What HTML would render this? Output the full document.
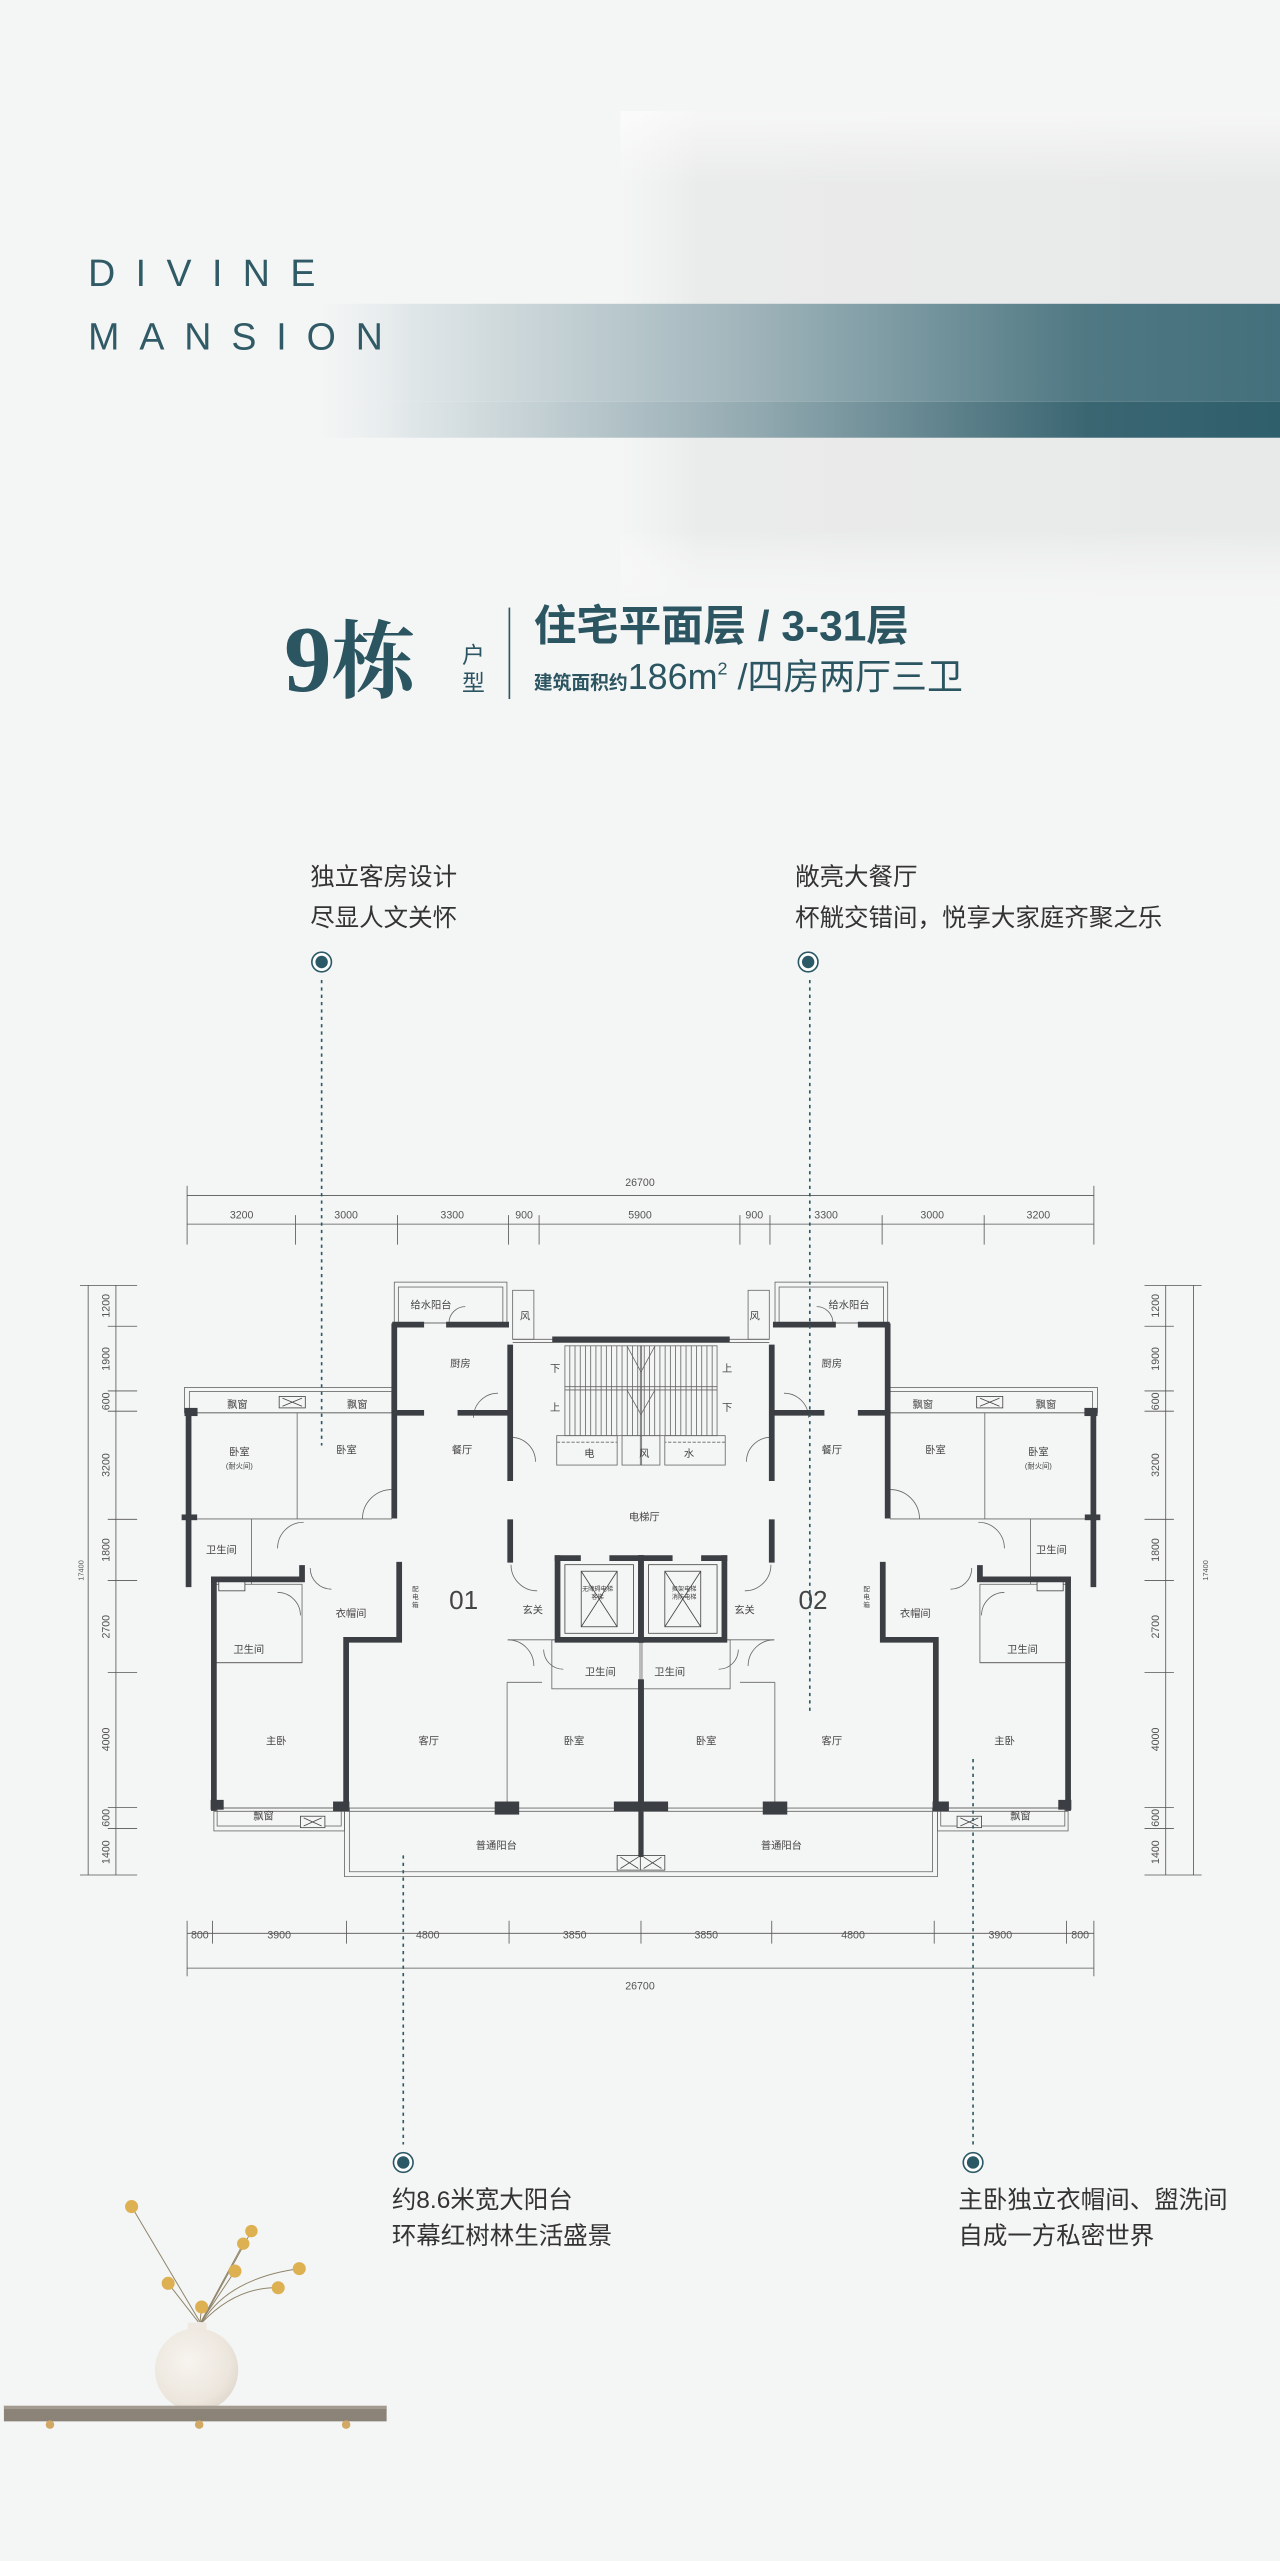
<!DOCTYPE html>
<html><head><meta charset="utf-8">
<style>
html,body{margin:0;padding:0;background:#f4f5f5;}
svg{display:block;}
</style></head>
<body>
<svg width="1280" height="2561" viewBox="0 0 784 1568" preserveAspectRatio="none" xmlns="http://www.w3.org/2000/svg" font-family="Liberation Sans, Noto Sans CJK SC, sans-serif">
<defs>
<linearGradient id="panel" x1="0" x2="1" y1="0" y2="0">
<stop offset="0" stop-color="#eceded" stop-opacity="0"/>
<stop offset="0.12" stop-color="#eaebeb" stop-opacity="1"/>
<stop offset="1" stop-color="#e8e9e9"/>
</linearGradient>
<linearGradient id="panelV" x1="0" x2="0" y1="0" y2="1">
<stop offset="0" stop-color="#fff" stop-opacity="0.6"/>
<stop offset="0.15" stop-color="#fff" stop-opacity="0"/>
<stop offset="0.85" stop-color="#fff" stop-opacity="0"/>
<stop offset="1" stop-color="#f4f5f5" stop-opacity="1"/>
</linearGradient>
<linearGradient id="band1" x1="0" x2="1" y1="0" y2="0">
<stop offset="0" stop-color="#e8ecee" stop-opacity="0"/>
<stop offset="0.1" stop-color="#dfe6e8"/>
<stop offset="0.45" stop-color="#9fb4ba"/>
<stop offset="0.8" stop-color="#4f7883"/>
<stop offset="1" stop-color="#43707c"/>
</linearGradient>
<linearGradient id="band2" x1="0" x2="1" y1="0" y2="0">
<stop offset="0" stop-color="#e8ecee" stop-opacity="0"/>
<stop offset="0.1" stop-color="#dfe6e8"/>
<stop offset="0.45" stop-color="#93aab1"/>
<stop offset="0.8" stop-color="#3a6672"/>
<stop offset="1" stop-color="#2f5f6b"/>
</linearGradient>
<radialGradient id="vase" cx="0.4" cy="0.4" r="0.7">
<stop offset="0" stop-color="#f7f4ef"/>
<stop offset="0.7" stop-color="#ece6dd"/>
<stop offset="1" stop-color="#ddd5ca"/>
</radialGradient>
</defs>

<rect x="0" y="0" width="784" height="1568" fill="#f4f5f5"/>
<!-- top panel -->
<rect x="380" y="68" width="404" height="302" fill="url(#panel)"/>
<rect x="380" y="68" width="404" height="302" fill="url(#panelV)"/>
<rect x="195" y="186" width="589" height="60" fill="url(#band1)"/>
<rect x="195" y="246" width="589" height="22" fill="url(#band2)"/>

<text x="54" y="175" font-size="23" fill="#2f5a66" letter-spacing="12.5" font-weight="300">DIVINE</text>
<text x="54" y="214" font-size="23" fill="#2f5a66" letter-spacing="12.2" font-weight="300">MANSION</text>

<!-- title -->
<text x="174" y="423" font-size="58" fill="#2b5561" font-family="Liberation Serif, Noto Serif CJK SC, serif" font-weight="bold">9<tspan font-size="52">栋</tspan></text>
<text x="283" y="406" font-size="14" fill="#2b5561" font-family="Liberation Sans, Noto Sans CJK SC, sans-serif">户</text>
<text x="283" y="423" font-size="14" fill="#2b5561" font-family="Liberation Sans, Noto Sans CJK SC, sans-serif">型</text>
<line x1="312" y1="372" x2="312" y2="428" stroke="#2b5561" stroke-width="1"/>
<text x="327" y="392" font-size="26" fill="#2b5561" font-weight="bold" font-family="Liberation Sans, Noto Sans CJK SC, sans-serif">住宅平面层 / 3-31层</text>
<text x="327" y="422" fill="#2b5561" font-family="Liberation Sans, Noto Sans CJK SC, sans-serif"><tspan font-size="11.5" font-weight="bold">建筑面积约</tspan><tspan font-size="22">186m</tspan><tspan font-size="11" dy="-9">2</tspan><tspan font-size="22" dy="9"> /四房两厅三卫</tspan></text>

<!-- callouts -->
<g font-size="15" fill="#333">
<text x="190" y="542">独立客房设计</text>
<text x="190" y="567">尽显人文关怀</text>
<text x="487" y="542">敞亮大餐厅</text>
<text x="487" y="567">杯觥交错间，悦享大家庭齐聚之乐</text>
<text x="240" y="1352">约8.6米宽大阳台</text>
<text x="240" y="1374">环幕红树林生活盛景</text>
<text x="587" y="1352">主卧独立衣帽间、盥洗间</text>
<text x="587" y="1374">自成一方私密世界</text>
</g>
<g>
<circle cx="197" cy="589" r="6" fill="#fff" stroke="#2b5a66" stroke-width="1"/><circle cx="197" cy="589" r="3.8" fill="#2b5a66"/>
<circle cx="495" cy="589" r="6" fill="#fff" stroke="#2b5a66" stroke-width="1"/><circle cx="495" cy="589" r="3.8" fill="#2b5a66"/>
<circle cx="247" cy="1324" r="6" fill="#fff" stroke="#2b5a66" stroke-width="1"/><circle cx="247" cy="1324" r="3.8" fill="#2b5a66"/>
<circle cx="596" cy="1324" r="6" fill="#fff" stroke="#2b5a66" stroke-width="1"/><circle cx="596" cy="1324" r="3.8" fill="#2b5a66"/>
</g>

<!-- floor plan -->
<g stroke="#555" fill="none" stroke-width="0.5">
<!-- top dims -->
<line x1="114.6" y1="732" x2="670" y2="732"/>
<line x1="114.6" y1="749.5" x2="670" y2="749.5"/>
<g>
<line x1="114.6" y1="726" x2="114.6" y2="762"/><line x1="670" y1="726" x2="670" y2="762"/>
<line x1="181" y1="744" x2="181" y2="762"/><line x1="243.5" y1="744" x2="243.5" y2="762"/>
<line x1="311.4" y1="744" x2="311.4" y2="762"/><line x1="330.2" y1="744" x2="330.2" y2="762"/>
<line x1="453.2" y1="744" x2="453.2" y2="762"/><line x1="471.6" y1="744" x2="471.6" y2="762"/>
<line x1="540.3" y1="744" x2="540.3" y2="762"/><line x1="602.8" y1="744" x2="602.8" y2="762"/>
</g>
<!-- bottom dims -->
<line x1="114.6" y1="1183.7" x2="670" y2="1183.7"/>
<line x1="114.6" y1="1205" x2="670" y2="1205"/>
<g>
<line x1="114.6" y1="1176" x2="114.6" y2="1210"/><line x1="670" y1="1176" x2="670" y2="1210"/>
<line x1="130.2" y1="1176" x2="130.2" y2="1190"/><line x1="212.2" y1="1176" x2="212.2" y2="1190"/>
<line x1="311.8" y1="1176" x2="311.8" y2="1190"/><line x1="392.6" y1="1176" x2="392.6" y2="1190"/>
<line x1="472.7" y1="1176" x2="472.7" y2="1190"/><line x1="572.2" y1="1176" x2="572.2" y2="1190"/>
<line x1="653.2" y1="1176" x2="653.2" y2="1190"/>
</g>
<!-- left dims -->
<line x1="54" y1="787" x2="54" y2="1148"/><line x1="71" y1="787" x2="71" y2="1148"/>
<g>
<line x1="49" y1="787" x2="84" y2="787"/><line x1="49" y1="1148" x2="84" y2="1148"/>
<line x1="66" y1="812" x2="84" y2="812"/><line x1="66" y1="851.6" x2="84" y2="851.6"/>
<line x1="66" y1="864" x2="84" y2="864"/><line x1="66" y1="930.2" x2="84" y2="930.2"/>
<line x1="66" y1="967.7" x2="84" y2="967.7"/><line x1="66" y1="1024" x2="84" y2="1024"/>
<line x1="66" y1="1106.6" x2="84" y2="1106.6"/><line x1="66" y1="1119.5" x2="84" y2="1119.5"/>
</g>
<!-- right dims -->
<line x1="731" y1="787" x2="731" y2="1148"/><line x1="714" y1="787" x2="714" y2="1148"/>
<g>
<line x1="701" y1="787" x2="736" y2="787"/><line x1="701" y1="1148" x2="736" y2="1148"/>
<line x1="701" y1="812" x2="719" y2="812"/><line x1="701" y1="851.6" x2="719" y2="851.6"/>
<line x1="701" y1="864" x2="719" y2="864"/><line x1="701" y1="930.2" x2="719" y2="930.2"/>
<line x1="701" y1="967.7" x2="719" y2="967.7"/><line x1="701" y1="1024" x2="719" y2="1024"/>
<line x1="701" y1="1106.6" x2="719" y2="1106.6"/><line x1="701" y1="1119.5" x2="719" y2="1119.5"/>
</g>
</g>
<g font-size="6.5" fill="#555" text-anchor="middle">
<text x="392" y="726">26700</text>
<text x="148" y="746">3200</text><text x="212" y="746">3000</text><text x="277" y="746">3300</text>
<text x="321" y="746">900</text><text x="392" y="746">5900</text><text x="462" y="746">900</text>
<text x="506" y="746">3300</text><text x="571" y="746">3000</text><text x="636" y="746">3200</text>
<text x="122.4" y="1187">800</text><text x="171" y="1187">3900</text><text x="262" y="1187">4800</text>
<text x="352" y="1187">3850</text><text x="432.6" y="1187">3850</text><text x="522.5" y="1187">4800</text>
<text x="612.7" y="1187">3900</text><text x="661.6" y="1187">800</text>
<text x="392" y="1218">26700</text>
</g>
<g font-size="6.5" fill="#555" text-anchor="middle">
<text transform="translate(67,799.5) rotate(-90)">1200</text>
<text transform="translate(67,832) rotate(-90)">1900</text>
<text transform="translate(67,858) rotate(-90)">600</text>
<text transform="translate(67,897) rotate(-90)">3200</text>
<text transform="translate(67,949) rotate(-90)">1800</text>
<text transform="translate(67,996) rotate(-90)">2700</text>
<text transform="translate(67,1065) rotate(-90)">4000</text>
<text transform="translate(67,1113) rotate(-90)">600</text>
<text transform="translate(67,1134) rotate(-90)">1400</text>
<text transform="translate(51,961.5) rotate(-90)" font-size="4.5">17400</text>
<text transform="translate(710,799.5) rotate(-90)">1200</text>
<text transform="translate(710,832) rotate(-90)">1900</text>
<text transform="translate(710,858) rotate(-90)">600</text>
<text transform="translate(710,897) rotate(-90)">3200</text>
<text transform="translate(710,949) rotate(-90)">1800</text>
<text transform="translate(710,996) rotate(-90)">2700</text>
<text transform="translate(710,1065) rotate(-90)">4000</text>
<text transform="translate(710,1113) rotate(-90)">600</text>
<text transform="translate(710,1134) rotate(-90)">1400</text>
<text transform="translate(740,961.5) rotate(-90)" font-size="4.5">17400</text>
</g>

<g id="half">
<!-- thin outlines -->
<g stroke="#666" stroke-width="0.5" fill="none">
<rect x="113" y="849.5" width="128" height="15.5"/>
<rect x="116" y="852" width="124" height="13"/>
<rect x="241.5" y="785" width="69" height="25"/>
<rect x="244" y="788" width="64" height="22"/>
<rect x="314" y="790" width="13" height="30"/>
<line x1="314" y1="820" x2="392.6" y2="820"/>
<line x1="314" y1="822" x2="392.6" y2="822"/>
<!-- stairs -->
<rect x="346" y="824" width="47" height="55"/>
<line x1="346" y1="849" x2="392.6" y2="849"/><line x1="346" y1="851" x2="392.6" y2="851"/>
<path d="M349 824V879M352.2 824V879M355.4 824V879M358.6 824V879M361.8 824V879M365 824V879M368.2 824V879M371.4 824V879M374.6 824V879M377.8 824V879M381 824V879M384.2 824V879M387.4 824V879M390.6 824V879"/>
<path d="M384 824L392.6 840M384 851L392.6 866"/>
<!-- rooms -->
<rect x="341" y="879" width="37" height="18"/>
<line x1="341" y1="883" x2="378" y2="883" stroke-dasharray="2 1"/>
<rect x="381" y="879" width="12" height="18"/>
<line x1="182" y1="865" x2="182" y2="930"/>
<line x1="113" y1="930" x2="240" y2="930"/>
<line x1="154" y1="930" x2="154" y2="970"/>
<rect x="131" y="970" width="54" height="48"/>
<line x1="131" y1="1018" x2="185" y2="1018"/>
<line x1="310.6" y1="1030" x2="310.6" y2="1107"/>
<line x1="310.6" y1="1030" x2="332" y2="1030"/>
<line x1="311" y1="1004" x2="341" y2="1004"/>
<rect x="338" y="1004" width="54" height="30"/>
<!-- balcony -->
<path d="M211 1107V1149H392.6"/>
<path d="M214 1107V1146H392.6"/>
<rect x="131" y="1107" width="80" height="14"/>
<rect x="133" y="1107" width="76" height="11"/>
<line x1="131" y1="1107" x2="392.6" y2="1107"/>
<line x1="131" y1="1109" x2="392.6" y2="1109"/>
<!-- doors -->
<path d="M170 948A16 16 0 0 1 186 932"/>
<path d="M222 930A18 18 0 0 1 240 912"/>
<path d="M313 958A16 16 0 0 0 329 974"/>
<path d="M313 880A15 15 0 0 1 328 895"/>
<path d="M190 960A13 13 0 0 0 203 973"/>
<path d="M170 975A14 14 0 0 1 184 989"/>
<path d="M311 1004A16 16 0 0 1 327 1020"/>
<path d="M333 1010A12 12 0 0 0 345 1022"/>
<path d="M275 810A10 10 0 0 1 285 800"/>
<path d="M290 868A15 15 0 0 1 305 853"/>
</g>
<!-- appliance boxes -->
<g stroke="#444" stroke-width="0.5" fill="#f4f5f5">
<rect x="171" y="855" width="16" height="7"/>
<path d="M173 856L185 861M173 861L185 856"/>
<rect x="184" y="1112" width="15" height="7"/>
<path d="M186 1113L197 1118M186 1118L197 1113"/>
<rect x="378" y="1136" width="15" height="9"/>
<path d="M380 1137L391 1144M380 1144L391 1137"/>
<rect x="134" y="968" width="16" height="6"/>
<!-- elevator -->
<rect x="346" y="958" width="42" height="42" fill="none"/>
<rect x="356" y="962" width="22" height="34"/>
<path d="M356 962L378 996M378 962L356 996"/>
</g>
<!-- thick walls -->
<g stroke="#3b3e42" stroke-width="3.5" fill="none" stroke-linecap="square">
<path d="M115.5 866V970"/>
<path d="M241.5 812V928"/>
<path d="M242 811H258M275 811H310"/>
<path d="M242 865H258M282 865H310"/>
<path d="M312.5 825V905M312.5 932V955"/>
<path d="M131 967V1107"/>
<path d="M131 967H185V960"/>
<path d="M244.5 958V1004H212V1107"/>
<path d="M341.5 954V1004H392.6"/>
<path d="M341.5 954H354M375 954H392.6"/>
<path d="M392.6 954V1004"/>
<path d="M392.6 1030V1107"/>
<path d="M340 820H392.6"/>
<path d="M113 929H119"/>
</g>
<g fill="#3b3e42">
<rect x="113" y="862" width="8" height="5"/>
<rect x="129" y="1102" width="8" height="6"/>
<rect x="204" y="1103" width="10" height="6"/>
<rect x="303" y="1103" width="15" height="8"/>
<rect x="376" y="1103" width="17" height="6"/>
<rect x="391" y="1109" width="3" height="28"/>
</g>
</g>
<use href="#half" transform="translate(785.2,0) scale(-1,1)"/>

<!-- plan labels -->
<g font-size="6.3" fill="#444" text-anchor="middle" font-family="Liberation Sans, Noto Sans CJK SC, sans-serif">
<text x="264" y="801">给水阳台</text><text x="520" y="801">给水阳台</text>
<text x="321.6" y="808">风</text><text x="462.2" y="808">风</text>
<text x="282" y="837">厨房</text><text x="509.5" y="837">厨房</text>
<text x="340" y="840">下</text><text x="445.4" y="840">上</text>
<text x="340" y="864">上</text><text x="445.4" y="864">下</text>
<text x="361" y="892">电</text><text x="394.6" y="892">风</text><text x="422" y="892">水</text>
<text x="145.4" y="862">飘窗</text><text x="218.8" y="862">飘窗</text>
<text x="565.3" y="862">飘窗</text><text x="640.7" y="862">飘窗</text>
<text x="146.6" y="891">卧室</text><text x="146.6" y="899" font-size="4.5">(耐火间)</text>
<text x="636" y="891">卧室</text><text x="636" y="899" font-size="4.5">(耐火间)</text>
<text x="212.2" y="890">卧室</text><text x="573" y="890">卧室</text>
<text x="283" y="890">餐厅</text><text x="509.5" y="890">餐厅</text>
<text x="394.6" y="931">电梯厅</text>
<text x="135.6" y="951">卫生间</text><text x="644" y="951">卫生间</text>
<text x="326.3" y="988">玄关</text><text x="456" y="988">玄关</text>
<text x="215" y="990">衣帽间</text><text x="560.6" y="990">衣帽间</text>
<text x="152.4" y="1012">卫生间</text><text x="626.3" y="1012">卫生间</text>
<text x="367.7" y="1026">卫生间</text><text x="410.2" y="1026">卫生间</text>
<text x="169.2" y="1068">主卧</text><text x="262.6" y="1068">客厅</text>
<text x="351.6" y="1068">卧室</text><text x="432.5" y="1068">卧室</text>
<text x="509.5" y="1068">客厅</text><text x="615.3" y="1068">主卧</text>
<text x="161.4" y="1114">飘窗</text><text x="625" y="1114">飘窗</text>
<text x="304" y="1132">普通阳台</text><text x="478.6" y="1132">普通阳台</text>
<text x="366" y="974" font-size="3.8">无障碍电梯</text><text x="366" y="979" font-size="3.8">客梯</text>
<text x="419" y="974" font-size="3.8">担架电梯</text><text x="419" y="979" font-size="3.8">消防电梯</text>
<text x="254.4" y="974" font-size="4">配</text><text x="254.4" y="979" font-size="4">电</text><text x="254.4" y="984" font-size="4">箱</text>
<text x="530.8" y="974" font-size="4">配</text><text x="530.8" y="979" font-size="4">电</text><text x="530.8" y="984" font-size="4">箱</text>
<text x="284" y="985" font-size="16">01</text><text x="498" y="985" font-size="16">02</text>
</g>

<!-- dotted callout lines -->
<g stroke="#2b5a66" stroke-width="1" stroke-dasharray="2 2.5" fill="none">
<line x1="197" y1="600" x2="197" y2="885"/>
<line x1="496" y1="600" x2="496" y2="1049"/>
<line x1="247" y1="1136" x2="247" y2="1313"/>
<line x1="596" y1="1077" x2="596" y2="1313"/>
</g>

<!-- vase & shelf -->
<g>
<g stroke="#8f8468" stroke-width="0.6" fill="none">
<path d="M122.5 1421.7L80.6 1351"/>
<path d="M121.5 1421.7L103 1398"/>
<path d="M122.5 1421.7L123.5 1412.5"/>
<path d="M123 1421.7L143.9 1390.5"/>
<path d="M123 1421.7L149 1373.7"/>
<path d="M123.5 1421.7L154 1366"/>
<path d="M124 1421.7Q140 1395 183.3 1389"/>
<path d="M124 1421.7Q145 1400 170.4 1400.7"/>
</g>
<g fill="#ddb152">
<circle cx="80.6" cy="1351" r="4"/><circle cx="103" cy="1398" r="4"/><circle cx="123.5" cy="1412.5" r="4"/>
<circle cx="143.9" cy="1390.5" r="4"/><circle cx="149" cy="1373.7" r="3.8"/><circle cx="154" cy="1366" r="3.8"/>
<circle cx="183.3" cy="1389" r="4"/><circle cx="170.4" cy="1400.7" r="4"/>
</g>
<rect x="115" y="1422" width="11.5" height="8" fill="#efe9e1"/>
<circle cx="120.4" cy="1451" r="25.5" fill="url(#vase)"/>
<rect x="2.4" y="1473" width="234.4" height="9.5" fill="#8b8278"/>
<rect x="2.4" y="1473" width="234.4" height="2" fill="#a39a90"/>
<circle cx="30.6" cy="1484.5" r="2.6" fill="#d2a865"/>
<circle cx="122" cy="1484.5" r="2.6" fill="#d2a865"/>
<circle cx="212" cy="1484.5" r="2.6" fill="#d2a865"/>
</g>
</svg>
</body></html>
